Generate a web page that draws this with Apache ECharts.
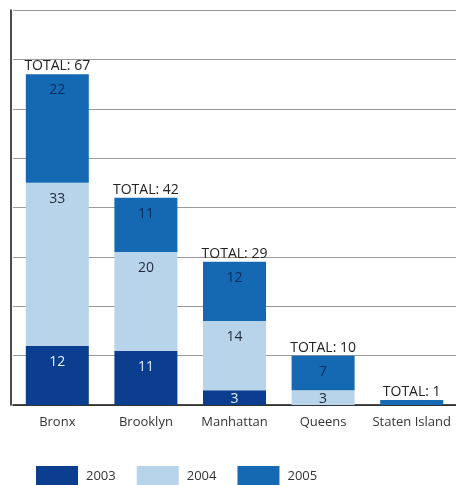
<!DOCTYPE html>
<html>
<head>
<meta charset="utf-8">
<script src="https://cdn.jsdelivr.net/npm/echarts@6/dist/echarts.min.js"></script>
<style>html,body{margin:0;padding:0;background:#fff;}#c{width:456px;height:485px;}</style>
</head>
<body>
<div id="c"></div>
<script>
var categories = ['Bronx', 'Brooklyn', 'Manhattan', 'Queens', 'Staten Island'];
var years = ['2003', '2004', '2005'];
var v2003 = [12, 11, 3, 0, 0];
var v2004 = [33, 20, 14, 3, 0];
var v2005 = [22, 11, 12, 7, 1];
var totals = [67, 42, 29, 10, 1];
var yTicks = [0, 10, 20, 30, 40, 50, 60, 70, 80];

var colors = ['#0b3e8e', '#b8d4eb', '#1569b2'];
var labelColors = ['#e6eef8', '#1e2a3a', '#0b2a5e'];
var FONT = '"Open Sans", "Liberation Sans", sans-serif';

function makeData(vals) {
  return vals.map(function (v) {
    if (v <= 1) return { value: v, label: { show: false } };
    if (v <= 4) return { value: v, label: { position: 'inside', offset: [0, 1] } };
    return v;
  });
}

var series = [v2003, v2004, v2005].map(function (vals, i) {
  return {
    name: years[i],
    type: 'bar',
    stack: 'all',
    barWidth: 63,
    data: makeData(vals),
    itemStyle: { color: colors[i] },
    label: {
      show: true,
      position: 'insideTop',
      distance: 9,
      color: labelColors[i],
      fontFamily: FONT,
      fontSize: 14
    },
    emphasis: { disabled: true }
  };
});

series.push({
  name: 'total',
  type: 'bar',
  stack: 'all',
  barWidth: 63,
  data: totals.map(function () { return 0; }),
  itemStyle: { color: 'transparent' },
  label: {
    show: true,
    position: 'top',
    distance: 1,
    color: '#222',
    fontFamily: FONT,
    fontSize: 14,
    formatter: function (p) { return 'TOTAL: ' + totals[p.dataIndex]; }
  },
  emphasis: { disabled: true }
});

var chart = echarts.init(document.getElementById('c'), null, { renderer: 'canvas' });
chart.setOption({
  animation: false,
  backgroundColor: '#fff',
  grid: { left: 13, right: 0, top: 10, bottom: 80, containLabel: false },
  legend: {
    data: years,
    left: 36,
    top: 466,
    padding: 0,
    itemWidth: 42,
    itemHeight: 20,
    itemGap: 21,
    icon: 'rect',
    textStyle: { fontFamily: FONT, fontSize: 13, color: '#333', padding: [0, 0, 0, 3] },
    selectedMode: false
  },
  xAxis: {
    type: 'category',
    data: categories,
    axisLine: { show: true, lineStyle: { color: '#111', width: 1.5 } },
    axisTick: { show: false },
    axisLabel: { margin: 11, color: '#333', fontFamily: FONT, fontSize: 13, interval: 0 }
  },
  yAxis: {
    type: 'value',
    min: yTicks[0],
    max: yTicks[yTicks.length - 1],
    interval: 10,
    offset: 2,
    axisLine: { show: true, lineStyle: { color: '#111', width: 1.5 } },
    axisTick: { show: false },
    axisLabel: { show: false },
    splitLine: { show: true, lineStyle: { color: '#999', width: 1 } }
  },
  series: series
});
</script>
</body>
</html>
